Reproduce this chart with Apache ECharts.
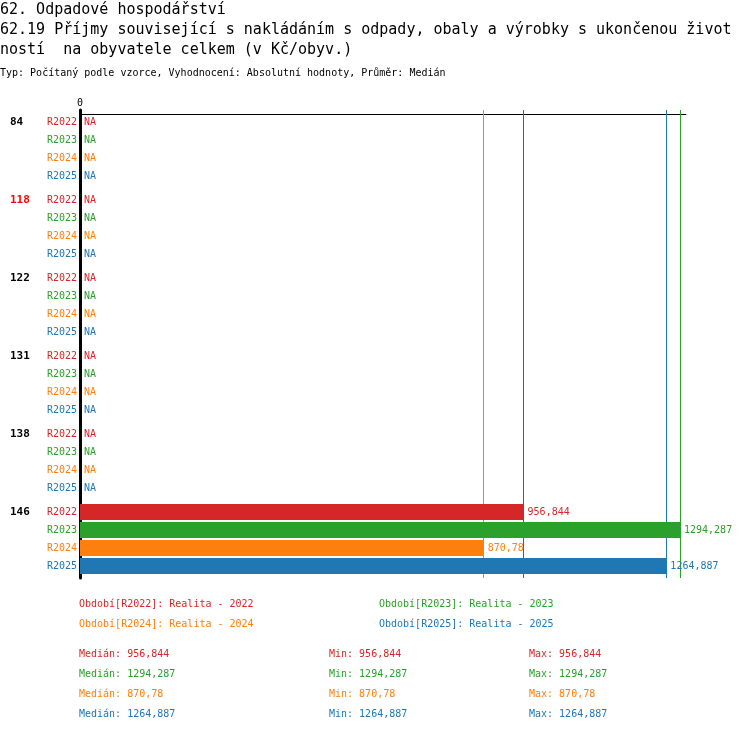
<!DOCTYPE html>
<html lang="cs">

<head>
  <meta charset="UTF-8">
  <title>62.19 Příjmy související s nakládáním s odpady</title>
  <style>
    html, body { margin: 0; padding: 0; background: #fff; }
  </style>
</head>

<body>
  <div id="main" style="width: 750px; height: 732px"></div>

  <script src="https://cdn.jsdelivr.net/npm/echarts@6/dist/echarts.min.js"></script>

  <script>
    // obce (kódy) - 118 je zvýrazněná
    const categories = ['84', '118', '122', '131', '138', '146']
    const highlighted = '118'
    const periods = ['R2022', 'R2023', 'R2024', 'R2025']
    const colors = ['#d62728', '#2ca02c', '#ff7f0e', '#1f77b4']

    // hodnoty po obdobích, null = NA
    const r2022 = [null, null, null, null, null, 956.844]
    const r2023 = [null, null, null, null, null, 1294.287]
    const r2024 = [null, null, null, null, null, 870.78]
    const r2025 = [null, null, null, null, null, 1264.887]
    const values = [r2022, r2023, r2024, r2025]

    const xTicks = [0]

    const FONT = 'DejaVu Sans Mono'
    const fmt = v => String(v).replace('.', ',')

    function stats(arr) {
      const v = arr.filter(x => x !== null).sort((a, b) => a - b)
      const m = v.length % 2 ? v[(v.length - 1) / 2] : (v[v.length / 2 - 1] + v[v.length / 2]) / 2
      return { median: m, min: v[0], max: v[v.length - 1] }
    }

    const allVals = values.flat().filter(x => x !== null)
    const xMax = Math.max(...allVals) * 1.01

    const rich = {
      code: { width: 37, align: 'left', fontWeight: 'bold', fontSize: 11, color: '#000', lineHeight: 18, fontFamily: FONT },
      hl: { width: 37, align: 'left', fontWeight: 'bold', fontSize: 11, color: '#ff0000', lineHeight: 18, fontFamily: FONT }
    }
    periods.forEach((p, i) => {
      rich['r' + i] = { align: 'right', fontSize: 10, color: colors[i], lineHeight: 18, fontFamily: FONT }
    })

    const statRich = {}
    colors.forEach((c, i) => {
      statRich['s' + i] = { color: c, fontSize: 10, fontWeight: 'normal', lineHeight: 20, fontFamily: FONT }
    })

    const st = values.map(stats)
    const statCol = (label, key) => st.map((s, i) => `{s${i}|${label}: ${fmt(s[key])}}`).join('\n')

    const series = periods.map((p, i) => ({
      name: p,
      type: 'bar',
      barWidth: 16,
      barGap: '12.5%',
      itemStyle: { color: colors[i] },
      data: values[i].map(v => (v === null ? 0 : v)),
      label: {
        show: true,
        position: 'right',
        distance: 4,
        color: colors[i],
        fontSize: 10,
        fontFamily: FONT,
        formatter: prm => (values[i][prm.dataIndex] === null ? 'NA' : fmt(prm.value))
      },
      markLine: {
        silent: true,
        z: 1,
        symbol: 'none',
        label: { show: false },
        lineStyle: { color: colors[i], width: 1, type: 'solid' },
        data: [{ xAxis: st[i].median }]
      }
    }))

    const legendItem = i => ({ name: periods[i], textStyle: { color: colors[i] } })
    const legendBase = {
      orient: 'vertical',
      top: 594,
      icon: 'none',
      itemWidth: 0,
      itemHeight: 20,
      itemGap: 0,
      padding: 0,
      selectedMode: false,
      textStyle: { fontFamily: FONT, fontSize: 10, lineHeight: 20 },
      formatter: name => `Období[${name}]: Realita - ${name.slice(1)}`
    }

    const myChart = echarts.init(document.getElementById('main'))

    const option = {
      animation: false,
      backgroundColor: '#fff',
      title: [
        {
          text: '62. Odpadové hospodářství\n62.19 Příjmy související s nakládáním s odpady, obaly a výrobky s ukončenou život\nností  na obyvatele celkem (v Kč/obyv.)',
          left: 0, top: 0, padding: 0,
          textStyle: { fontFamily: FONT, fontSize: 15, fontWeight: 'normal', color: '#000', lineHeight: 20 }
        },
        {
          text: 'Typ: Počítaný podle vzorce, Vyhodnocení: Absolutní hodnoty, Průměr: Medián',
          left: 0, top: 67, padding: 0,
          textStyle: { fontFamily: FONT, fontSize: 10, fontWeight: 'normal', color: '#000', lineHeight: 12 }
        },
        { text: statCol('Medián', 'median'), left: 79, top: 644, padding: 0, textStyle: { fontWeight: 'normal', rich: statRich } },
        { text: statCol('Min', 'min'), left: 329, top: 644, padding: 0, textStyle: { fontWeight: 'normal', rich: statRich } },
        { text: statCol('Max', 'max'), left: 529, top: 644, padding: 0, textStyle: { fontWeight: 'normal', rich: statRich } }
      ],
      legend: [
        Object.assign({}, legendBase, { left: 74, data: [legendItem(0), legendItem(2)] }),
        Object.assign({}, legendBase, { left: 374, data: [legendItem(1), legendItem(3)] })
      ],
      grid: { left: 80, right: 64, top: 110, height: 468, containLabel: false },
      xAxis: {
        type: 'value',
        position: 'top',
        offset: -4,
        min: 0,
        max: xMax,
        axisLine: { show: true, lineStyle: { color: '#000', width: 1 } },
        axisTick: { show: false },
        splitLine: { show: false },
        axisLabel: {
          margin: 6,
          fontFamily: FONT,
          fontSize: 10,
          color: '#000',
          formatter: v => (xTicks.includes(v) ? String(v) : ''),
          showMaxLabel: false
        }
      },
      yAxis: {
        type: 'category',
        inverse: true,
        data: categories,
        axisLine: { show: true, onZero: false, lineStyle: { color: '#000', width: 3 } },
        axisTick: { show: false },
        axisLabel: {
          margin: 3,
          formatter: v => `{${v === highlighted ? 'hl' : 'code'}|${v}}{r0|${periods[0]}}\n{r1|${periods[1]}}\n{r2|${periods[2]}}\n{r3|${periods[3]}}`,
          rich: rich
        }
      },
      series: series
    }

    myChart.setOption(option)
  </script>
</body>

</html>
